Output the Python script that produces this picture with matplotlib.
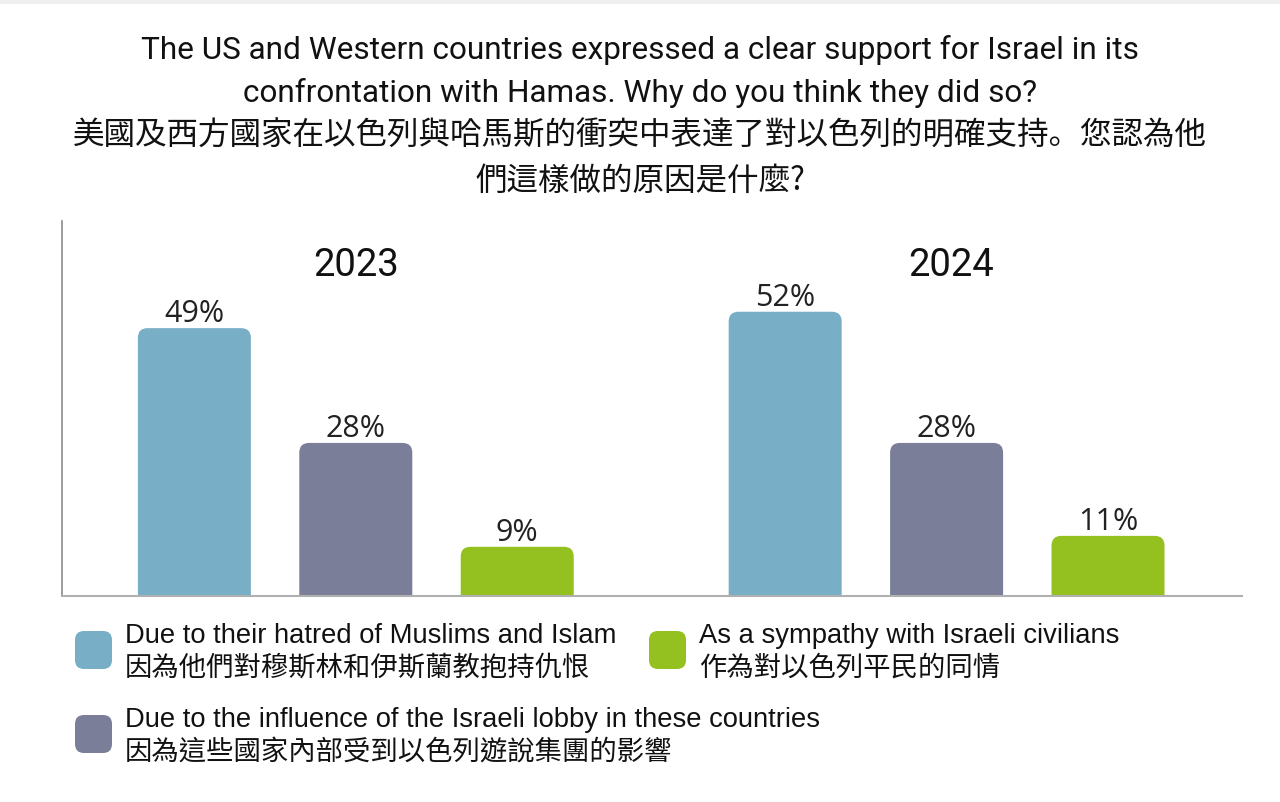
import matplotlib.pyplot as plt
from matplotlib.patches import FancyBboxPatch, Rectangle

# data
years = ['2023', '2024']
values_2023 = [49, 28, 9]
values_2024 = [52, 28, 11]
colors = ['#78aec6', '#7a7e99', '#94c11f']
reasons_en = ['Due to their hatred of Muslims and Islam',
              'Due to the influence of the Israeli lobby in these countries',
              'As a sympathy with Israeli civilians']
reasons_zh = ['因為他們對穆斯林和伊斯蘭教抱持仇恨',
              '因為這些國家內部受到以色列遊說集團的影響',
              '作為對以色列平民的同情']
title_lines = ['The US and Western countries expressed a clear support for Israel in its',
               'confrontation with Hamas. Why do you think they did so?',
               '美國及西方國家在以色列與哈馬斯的衝突中表達了對以色列的明確支持。您認為他',
               '們這樣做的原因是什麼?']

EN = ['Roboto', 'Noto Sans CJK TC']
ZH_T = ['Noto Sans CJK JP', 'DejaVu Sans']
ZH = ['Noto Sans CJK TC', 'DejaVu Sans']
LEG = ['Liberation Sans', 'Noto Sans CJK TC']

W, H = 1280, 803
fig = plt.figure(figsize=(W / 100, H / 100), dpi=100)
fig.add_artist(Rectangle((0, 1 - 5 / H), 1, 5 / H, transform=fig.transFigure,
                         color='#eeeeee', lw=0))

# title
for txt, y in zip(title_lines, [50, 93, 136, 181]):
    fam = EN if txt[0].isascii() else ZH_T
    fig.text(0.5, 1 - y / H, txt, ha='center', va='center', fontsize=22.7,
             family=fam, color='#111111')

ax = fig.add_axes([62 / W, 1 - 597 / H, (1242 - 62) / W, (597 - 222) / H])
ax.set_xlim(-0.82, 6.49)
ax.set_ylim(0, 68.6)
for s in ['top', 'right']:
    ax.spines[s].set_visible(False)
ax.spines['left'].set_color('#8a8a8a')
ax.spines['bottom'].set_color('#b0b0b0')
ax.spines['left'].set_linewidth(1.2)
ax.spines['bottom'].set_linewidth(1.5)
ax.set_xticks([])
ax.set_yticks([])

group_start = [0, 3.66]
mut = (68.6 / 375) / (7.31 / 1180)
for g, vals in enumerate([values_2023, values_2024]):
    xs = [group_start[g] + i for i in range(3)]
    bars = ax.bar(xs, vals, width=0.70, color=colors, alpha=0)
    for b, c, v in zip(bars, colors, vals):
        x0, w, h = b.get_x(), b.get_width(), b.get_height()
        ax.add_patch(FancyBboxPatch((x0, -3), w, h + 3,
                                    boxstyle='round,pad=0,rounding_size=0.06',
                                    mutation_aspect=mut, fc=c, ec='none'))
        ax.annotate(f'{v}%', (x0 + w / 2, h), xytext=(0, 5),
                    textcoords='offset points', ha='center', va='baseline',
                    fontsize=22, family='Open Sans', color='#222222')
    ax.text(group_start[g] + 1 + 0.03 * g, 60.7, years[g], ha='center', va='center',
            fontsize=27.5, family='Roboto', color='#111111')

# legend
legend_pos = [(75, 632), (75, 716), (649, 632)]
for (px, py), c, en, zh in zip(legend_pos, colors, reasons_en, reasons_zh):
    fig.add_artist(FancyBboxPatch((px / W, 1 - (py + 38) / H), 37 / W, 38 / H,
                                  boxstyle='round,pad=0,rounding_size=0.007',
                                  mutation_aspect=W / H,
                                  transform=fig.transFigure, fc=c, ec='none'))
    fig.text((px + 50) / W, 1 - (py + 4) / H, en, ha='left', va='center',
             fontsize=19.7, family=LEG, color='#111111')
    fig.text((px + 50) / W, 1 - (py + 36) / H, zh, ha='left', va='center',
             fontsize=19.7, family=ZH, color='#111111')

fig.savefig('out.png', dpi=100, facecolor='white')
